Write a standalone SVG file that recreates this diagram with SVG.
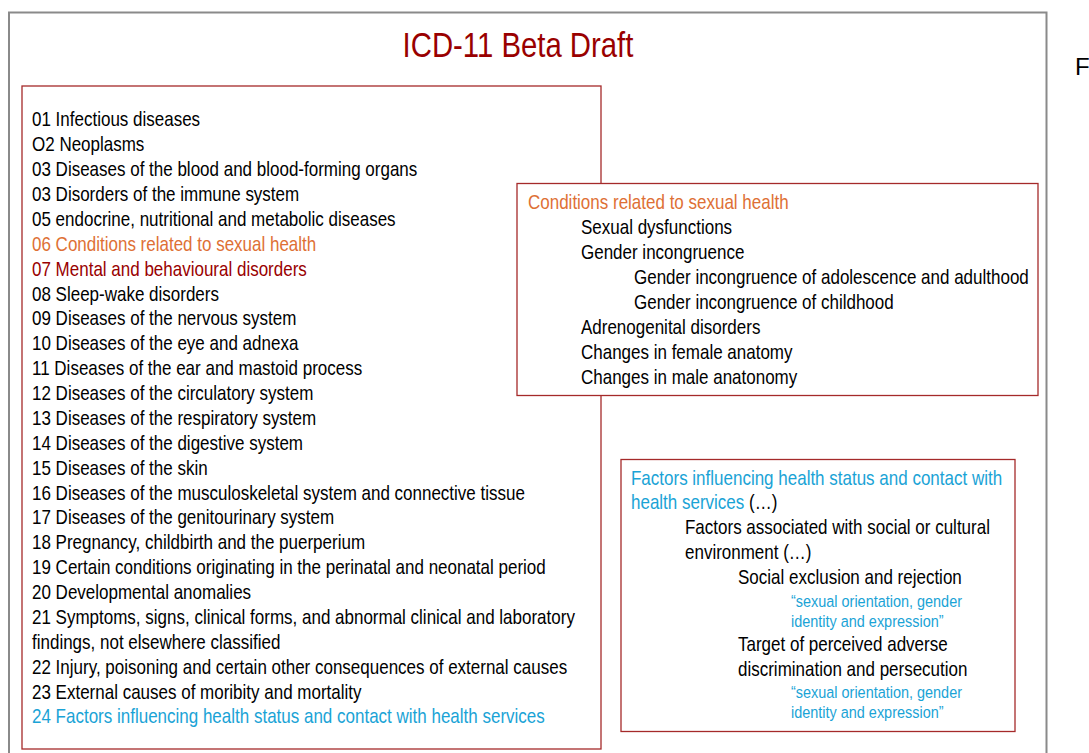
<svg xmlns="http://www.w3.org/2000/svg" width="1089" height="753" viewBox="0 0 1089 753">
<style>
text{font-family:"Liberation Sans",Arial,sans-serif;font-size:20px;fill:#000}
.or{fill:#DE7035}
.rd{fill:#990000}
.bl{fill:#1AA3D6}
.sm{font-size:17px}
.box{fill:#fff;stroke:#A52A2A;stroke-width:1.3}
</style>
<rect width="1089" height="753" fill="#fff"/>
<g id="frame">
<path d="M9 760 V12.5 H1046.5 V760" fill="none" stroke="#8a8a8a" stroke-width="2"/>
</g>
<g id="title" transform="scale(0.85 1)">
<text x="609.4" y="57.5" text-anchor="middle" class="rd" style="font-size:34.5px">ICD-11 Beta Draft</text>
</g>
<g id="F"><text x="1075" y="75" style="font-size:24px">F</text></g>
<g id="chapters">
<rect class="box" x="22" y="86" width="579" height="663"/>
<g transform="scale(0.85 1)">
<text x="37.65" y="126.5">01 Infectious diseases</text>
<text x="37.65" y="151.4">O2 Neoplasms</text>
<text x="37.65" y="176.3">03 Diseases of the blood and blood-forming organs</text>
<text x="37.65" y="201.1">03 Disorders of the immune system</text>
<text x="37.65" y="226">05 endocrine, nutritional and metabolic diseases</text>
<text x="37.65" y="250.9" class="or">06 Conditions related to sexual health</text>
<text x="37.65" y="275.8" class="rd">07 Mental and behavioural disorders</text>
<text x="37.65" y="300.6">08 Sleep-wake disorders</text>
<text x="37.65" y="325.5">09 Diseases of the nervous system</text>
<text x="37.65" y="350.4">10 Diseases of the eye and adnexa</text>
<text x="37.65" y="375.3">11 Diseases of the ear and mastoid process</text>
<text x="37.65" y="400.1">12 Diseases of the circulatory system</text>
<text x="37.65" y="425">13 Diseases of the respiratory system</text>
<text x="37.65" y="449.9">14 Diseases of the digestive system</text>
<text x="37.65" y="474.8">15 Diseases of the skin</text>
<text x="37.65" y="499.6">16 Diseases of the musculoskeletal system and connective tissue</text>
<text x="37.65" y="524.5">17 Diseases of the genitourinary system</text>
<text x="37.65" y="549.4">18 Pregnancy, childbirth and the puerperium</text>
<text x="37.65" y="574.3">19 Certain conditions originating in the perinatal and neonatal period</text>
<text x="37.65" y="599.1">20 Developmental anomalies</text>
<text x="37.65" y="624">21 Symptoms, signs, clinical forms, and abnormal clinical and laboratory</text>
<text x="37.65" y="648.9">findings, not elsewhere classified</text>
<text x="37.65" y="673.8">22 Injury, poisoning and certain other consequences of external causes</text>
<text x="37.65" y="698.6">23 External causes of moribity and mortality</text>
<text x="37.65" y="723.5" class="bl">24 Factors influencing health status and contact with health services</text>
</g>
</g>
<g id="sexual-health">
<rect class="box" x="517" y="183.5" width="521" height="212"/>
<g transform="scale(0.85 1)">
<text x="621.18" y="209.5" class="or">Conditions related to sexual health</text>
<text x="683.53" y="234.4">Sexual dysfunctions</text>
<text x="683.53" y="259.3">Gender incongruence</text>
<text x="745.88" y="284.1">Gender incongruence of adolescence and adulthood</text>
<text x="745.88" y="309">Gender incongruence of childhood</text>
<text x="683.53" y="333.9">Adrenogenital disorders</text>
<text x="683.53" y="358.8">Changes in female anatomy</text>
<text x="683.53" y="383.6">Changes in male anatonomy</text>
</g>
</g>
<g id="factors">
<rect class="box" x="621" y="459.5" width="394" height="272"/>
<g transform="scale(0.85 1)">
<text x="742.35" y="485" class="bl">Factors influencing health status and contact with</text>
<text x="742.35" y="509.5"><tspan class="bl">health services</tspan> (…)</text>
<text x="805.88" y="534.4">Factors associated with social or cultural</text>
<text x="805.88" y="559.3">environment (…)</text>
<text x="868.24" y="584.1">Social exclusion and rejection</text>
<text x="930.59" y="607" class="bl sm">“sexual orientation, gender</text>
<text x="930.59" y="627.5" class="bl sm">identity and expression”</text>
<text x="868.24" y="651">Target of perceived adverse</text>
<text x="868.24" y="675.9">discrimination and persecution</text>
<text x="930.59" y="698" class="bl sm">“sexual orientation, gender</text>
<text x="930.59" y="718.5" class="bl sm">identity and expression”</text>
</g>
</g>
</svg>
